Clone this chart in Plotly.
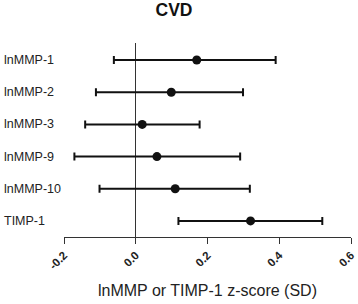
import plotly.graph_objects as go

labels = ["lnMMP-1", "lnMMP-2", "lnMMP-3", "lnMMP-9", "lnMMP-10", "TIMP-1"]
estimate = [0.170, 0.099, 0.018, 0.059, 0.110, 0.320]
ci_low = [-0.061, -0.111, -0.141, -0.171, -0.101, 0.119]
ci_high = [0.390, 0.299, 0.178, 0.291, 0.318, 0.520]
tick_vals = [-0.2, 0.0, 0.2, 0.4, 0.6]
tick_text = ["-0.2", "0.0", "0.2", "0.4", "0.6"]

ypos = list(range(len(labels)))
err_plus = [h - e for h, e in zip(ci_high, estimate)]
err_minus = [e - l for e, l in zip(estimate, ci_low)]

fig = go.Figure()
fig.add_trace(go.Scatter(
    x=estimate, y=ypos, mode="markers",
    marker=dict(color="#111111", size=9),
    error_x=dict(type="data", symmetric=False, array=err_plus, arrayminus=err_minus,
                 color="#111111", thickness=2, width=4),
    showlegend=False, hoverinfo="skip", cliponaxis=False))

L, R, T, B = 64, 7, 43, 67
W, H = 358, 304
pw = W - L - R
FONT = "Liberation Sans, Arial"
for i, lab in enumerate(labels):
    fig.add_annotation(text=lab, x=(2 - L) / pw, xref="paper", y=i, yref="y",
                       xanchor="left", yanchor="middle", showarrow=False,
                       font=dict(family=FONT, size=12.5, color="#222222"))

fig.update_layout(
    width=W, height=H, margin=dict(l=L, r=R, t=T, b=B, autoexpand=False),
    plot_bgcolor="white", paper_bgcolor="white",
    title=dict(text="<b>CVD</b>", x=174 / W, xanchor="center", y=1 - 10 / H, yanchor="middle",
               font=dict(family=FONT, size=17.5, color="#111111")),
    xaxis=dict(range=[-0.2, 0.6], tickvals=tick_vals, automargin=False,
               ticktext=["<b>%s</b>" % t for t in tick_text], tickangle=-45,
               ticklabeloverflow="allow",
               showline=True, linecolor="#333333", linewidth=1.2,
               ticks="outside", ticklen=6, tickcolor="#333333", tickwidth=1.2,
               showgrid=False, zeroline=True, zerolinecolor="#333333", zerolinewidth=1.2,
               tickfont=dict(family=FONT, size=11.5, color="#222222"),
               title=dict(text="lnMMP or TIMP-1 z-score (SD)", standoff=14,
                          font=dict(family=FONT, size=16, color="#222222"))),
    yaxis=dict(range=[5.5, -0.53], showticklabels=False, showgrid=False, zeroline=False,
               showline=False, ticks="", automargin=False),
)
fig.write_html("out.html", config={"displayModeBar": False},
               post_script="document.body.style.margin='0';")
